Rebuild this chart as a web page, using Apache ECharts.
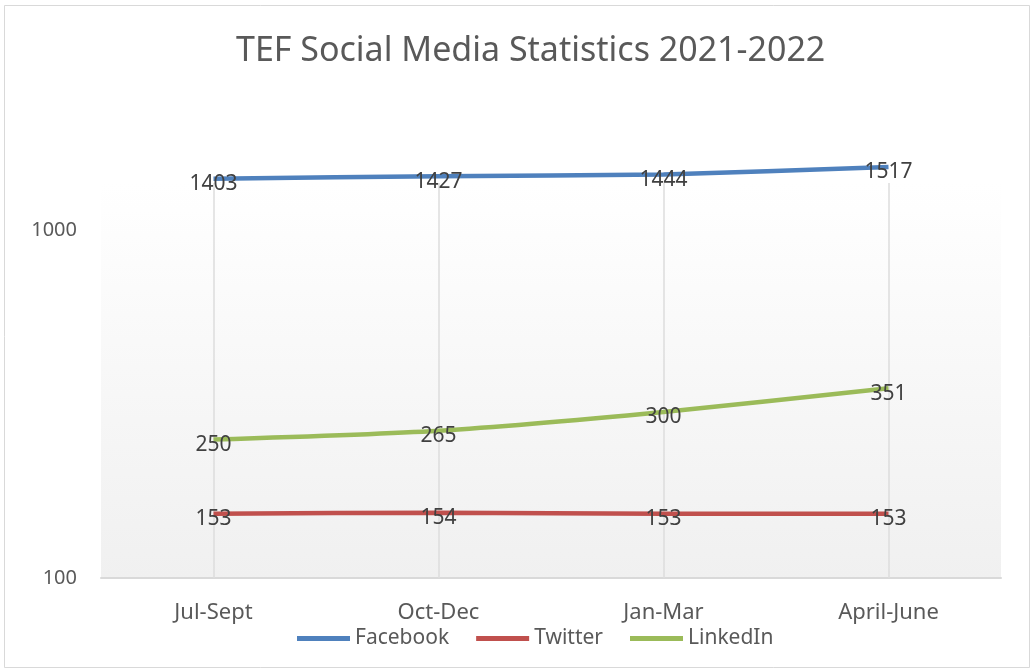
<!DOCTYPE html>
<html>
<head>
<meta charset="utf-8">
<script src="https://cdn.jsdelivr.net/npm/echarts@6/dist/echarts.min.js"></script>
<style>
  html, body { margin: 0; padding: 0; background: #fff; }
  #container { width: 1034px; height: 670px; }
</style>
</head>
<body>
<div id="container"></div>
<script>
var categories = ['Jul-Sept', 'Oct-Dec', 'Jan-Mar', 'April-June'];
var facebook = [1403, 1427, 1444, 1517];
var twitter = [153, 154, 153, 153];
var linkedin = [250, 265, 300, 351];

var font = 'Noto Sans';
var textColor = '#595959';

var chart = echarts.init(document.getElementById('container'));

function lineSeries(name, data, color) {
  return {
    name: name,
    type: 'line',
    data: data,
    smooth: 0.25,
    clip: false,
    zlevel: 1,
    z: 3,
    symbol: 'circle',
    symbolSize: 0.1,
    lineStyle: { color: color, width: 4.5 },
    itemStyle: { color: color },
    label: {
      show: true,
      position: 'top',
      distance: 0,
      offset: [0, 16],
      color: '#404040',
      fontFamily: font,
      fontSize: 21
    }
  };
}

// vertical gridlines through each category centre
var gridSeries = {
  name: 'grid',
  type: 'line',
  data: [],
  z: 1,
  silent: true,
  markLine: {
    silent: true,
    symbol: 'none',
    label: { show: false },
    lineStyle: { color: '#dcdcdc', width: 1.5, type: 'solid' },
    data: categories.map(function (c) { return { xAxis: c }; })
  }
};

var option = {
  animation: false,
  backgroundColor: '#fff',
  title: {
    text: 'TEF Social Media Statistics 2021-2022',
    left: 231,
    top: 29,
    textStyle: { color: textColor, fontFamily: font, fontSize: 34, fontWeight: 'normal' }
  },
  graphic: [{
    type: 'rect',
    shape: { x: 4.5, y: 5.5, width: 1025, height: 662 },
    style: { fill: 'none', stroke: '#d9d9d9', lineWidth: 1 },
    silent: true,
    z: -1
  }],
  legend: {
    bottom: 16,
    left: 292,
    icon: 'rect',
    itemWidth: 53,
    itemHeight: 5,
    itemGap: 27,
    textStyle: { color: textColor, fontFamily: font, fontSize: 21 },
    data: ['Facebook', 'Twitter', 'LinkedIn']
  },
  grid: {
    left: 101,
    right: 33,
    top: 183,
    bottom: 92,
    show: true,
    borderWidth: 0,
    backgroundColor: {
      type: 'linear', x: 0, y: 0, x2: 0, y2: 1,
      colorStops: [{ offset: 0, color: '#ffffff' }, { offset: 1, color: '#f0f0f0' }]
    }
  },
  xAxis: {
    type: 'category',
    data: categories,
    boundaryGap: true,
    axisLine: { lineStyle: { color: '#d9d9d9', width: 2 } },
    axisTick: { show: false },
    axisLabel: { color: textColor, fontFamily: font, fontSize: 22, margin: 24 },
    splitLine: { show: false }
  },
  yAxis: {
    type: 'log',
    logBase: 10,
    min: 100,
    max: 1364,
    axisLine: { show: false },
    axisTick: { show: false },
    splitLine: { show: false },
    axisLabel: {
      color: textColor, fontFamily: font, fontSize: 20, margin: 24, showMaxLabel: false,
      formatter: function (v) { return String(Math.round(v)); }
    }
  },
  series: [
    gridSeries,
    lineSeries('Facebook', facebook, '#4f81bd'),
    lineSeries('Twitter', twitter, '#c0504d'),
    lineSeries('LinkedIn', linkedin, '#9bbb59')
  ]
};

chart.setOption(option);
</script>
</body>
</html>
